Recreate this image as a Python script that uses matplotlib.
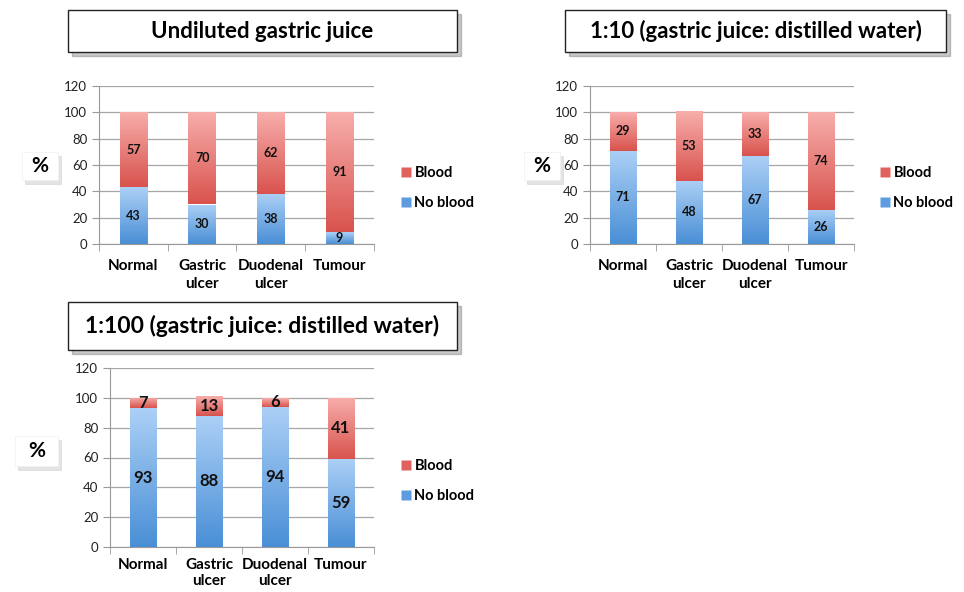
import numpy as np
import matplotlib.pyplot as plt
import matplotlib.patches as patches
from matplotlib.colors import LinearSegmentedColormap
from matplotlib.lines import Line2D

plt.rcParams['font.family'] = ['Lato', 'DejaVu Sans']

categories = ['Normal', 'Gastric\nulcer', 'Duodenal\nulcer', 'Tumour']
series_names = ['Blood', 'No blood']

undiluted_noblood = [43, 30, 38, 9]
undiluted_blood = [57, 70, 62, 91]
dil10_noblood = [71, 48, 67, 26]
dil10_blood = [29, 53, 33, 74]
dil100_noblood = [93, 88, 94, 59]
dil100_blood = [7, 13, 6, 41]

titles = ['Undiluted gastric juice',
          '1:10 (gastric juice: distilled water)',
          '1:100 (gastric juice: distilled water)']

red_cmap = LinearSegmentedColormap.from_list('red', ['#d9534e', '#f7aeab'])
blue_cmap = LinearSegmentedColormap.from_list('blue', ['#4a8fd6', '#acd0f6'])
grad = np.linspace(0, 1, 100).reshape(-1, 1)

W, H = 964, 592
fig = plt.figure(figsize=(W / 100, H / 100), dpi=100)


def fx(px):
    return px / W


def fy(py):
    return 1 - py / H


def draw_panel(rect, noblood, blood, label_size, pad=11, spacing=1.35):
    ax = fig.add_axes(rect)
    x = np.arange(len(categories))
    b1 = ax.bar(x, noblood, width=0.4, color='none', edgecolor='none', zorder=2)
    b2 = ax.bar(x, blood, bottom=noblood, width=0.4, color='none', edgecolor='none', zorder=2)
    for bars, cmap in ((b1, blue_cmap), (b2, red_cmap)):
        for r in bars:
            im = ax.imshow(grad, cmap=cmap, origin='lower', aspect='auto', zorder=2,
                           interpolation='bilinear',
                           extent=(r.get_x(), r.get_x() + r.get_width(),
                                   r.get_y(), r.get_y() + r.get_height()))
            im.set_clip_path(r)
    ax.bar_label(b1, label_type='center', fontsize=label_size, fontweight='bold', color='#111111')
    ax.bar_label(b2, label_type='center', fontsize=label_size, fontweight='bold', color='#111111')
    ax.set_xlim(-0.5, 3.5)
    ax.set_ylim(0, 120)
    ax.set_yticks(range(0, 121, 20))
    ax.set_xticks(x)
    ax.set_xticklabels(categories, fontsize=11, fontweight='bold', linespacing=spacing)
    ax.set_xticks(np.arange(-0.5, 4, 1), minor=True)
    ax.tick_params(axis='x', which='major', length=0, pad=pad)
    ax.tick_params(axis='x', which='minor', length=5, color='#999999')
    ax.tick_params(axis='y', length=5, color='#999999', labelsize=9.5, labelcolor='#222222')
    ax.yaxis.grid(True, color='#a6a6a6', linewidth=0.9, zorder=0)
    ax.set_axisbelow(True)
    for s in ('top', 'right'):
        ax.spines[s].set_visible(False)
    for s in ('left', 'bottom'):
        ax.spines[s].set_color('#999999')
    return ax


def title_box(x0, y0, x1, y1, text, size):
    rect = patches.Rectangle((fx(x0), fy(y1)), fx(x1 - x0), (y1 - y0) / H,
                             transform=fig.transFigure, facecolor='white',
                             edgecolor='#222222', linewidth=1.0, zorder=3)
    shadow = patches.Shadow(rect, 3 / W, -3 / H, alpha=0.3)
    fig.add_artist(shadow)
    fig.add_artist(rect)
    fig.text(fx((x0 + x1) / 2), fy((y0 + y1) / 2), text, ha='center', va='center',
             fontsize=size, fontweight='bold', zorder=4)


def pct_box(x0, y0, x1, y1):
    rect = patches.Rectangle((fx(x0), fy(y1)), fx(x1 - x0), (y1 - y0) / H,
                             transform=fig.transFigure, facecolor='white',
                             edgecolor='#f0f0f0', linewidth=0.5, zorder=3)
    shadow = patches.Shadow(rect, 2 / W, -3 / H, alpha=0.15)
    fig.add_artist(shadow)
    fig.add_artist(rect)
    fig.text(fx((x0 + x1) / 2), fy((y0 + y1) / 2), '%', ha='center', va='center',
             fontsize=15, fontweight='bold', zorder=4)


def legend_at(ax, px, py):
    handles = [Line2D([], [], marker='s', linestyle='none', markersize=7,
                      markerfacecolor='#e0625e', markeredgecolor='none'),
               Line2D([], [], marker='s', linestyle='none', markersize=7,
                      markerfacecolor='#5d9ce0', markeredgecolor='none')]
    ax.legend(handles, series_names, loc='center left', bbox_to_anchor=(fx(px), fy(py)),
              bbox_transform=fig.transFigure, frameon=False, handlelength=0.6,
              handletextpad=0.25, labelspacing=1.1, borderpad=0, borderaxespad=0,
              prop={'weight': 'bold', 'size': 10.5})


ax1 = draw_panel([fx(99), fy(244), fx(374 - 99), (244 - 86) / H], undiluted_noblood, undiluted_blood, 9)
ax2 = draw_panel([fx(590), fy(244), fx(854 - 590), (244 - 86) / H], dil10_noblood, dil10_blood, 9)
ax3 = draw_panel([fx(110), fy(547), fx(374 - 110), (547 - 368) / H], dil100_noblood, dil100_blood, 12,
                 pad=8, spacing=1.2)

title_box(68, 10, 457, 52, titles[0], 16)
title_box(565, 10, 946, 52, titles[1], 16)
title_box(68, 302, 457, 350, titles[2], 16.5)

pct_box(22, 152, 58, 180)
pct_box(524, 152, 560, 180)
pct_box(15, 436, 58, 466)

legend_at(ax1, 402, 188)
legend_at(ax2, 881, 188)
legend_at(ax3, 402, 481)

fig.savefig('out.png', dpi=100)
